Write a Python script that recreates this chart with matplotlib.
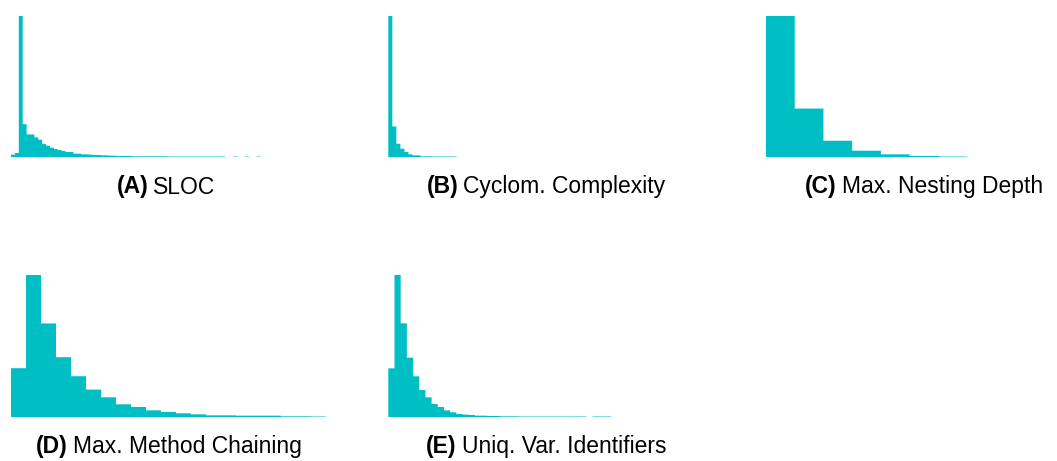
import numpy as np
import matplotlib
matplotlib.use("Agg")
import matplotlib.pyplot as plt

plt.rcParams['font.family'] = ['Liberation Sans', 'DejaVu Sans']

FILL = "#00BFC4"

# bin heights (relative counts, tallest bin = 425)
sloc = [7, 12, 425, 99, 68, 68, 59, 52, 39, 34, 28, 24, 21, 18, 15, 15,
        10, 10, 8, 8, 7, 6, 6, 5, 5, 4, 4, 3, 3, 3, 3, 2,
        2, 2, 2, 2, 2, 2, 2, 2, 1.5, 1.5, 1.5, 1.5, 1.5, 1.5, 1.5, 1.5,
        1.5, 1.5, 1.5, 1.5, 1.5, 1.5, 1.5, 0, 0, 1.5, 0, 0, 1.5, 0, 0, 1.5]
cyclom = [425, 92, 40, 25, 15, 8, 5, 5, 2, 2, 2, 1.5, 1.5, 1.5, 1.5, 1.5, 1.5]
nesting = [425, 146, 49, 19, 8, 3, 1.5]
chaining = [146, 425, 280, 179, 122, 82, 59, 38, 30, 20, 15,
            11, 8, 5, 5, 4, 4, 4, 2, 2, 1.5]
identifiers = [146, 426, 281, 178, 122, 81, 59, 39, 30, 20, 14, 9,
               7, 6, 4, 4, 3, 3, 2, 2, 2, 1.5, 1.5, 1.5, 1.5, 1.5, 1.5, 1.5,
               1.5, 1.5, 1.5, 1.5, 0, 1.5, 1.5, 1.5]

tags = ["(A)", "(B)", "(C)", "(D)", "(E)"]
names = ["SLOC", "Cyclom. Complexity", "Max. Nesting Depth",
         "Max. Method Chaining", "Uniq. Var. Identifiers"]
series = [sloc, cyclom, nesting, chaining, identifiers]

W, H = 1057, 461
fig = plt.figure(figsize=(W / 100, H / 100), dpi=100)

# panel boxes in pixels: left, right, top, bottom ; label centre x, y
boxes = [(11, 260.6, 16, 157), (388.3, 456.7, 16, 157), (766, 967, 16, 157),
         (11, 326, 275, 417), (388.3, 611, 275, 417)]
label_pos = [(166, 187), (546, 187), (924, 187), (169, 446), (546, 446)]

for vals, (l, r, t, b) in zip(series, boxes):
    ax = fig.add_axes([l / W, 1 - b / H, (r - l) / W, (b - t) / H])
    edges = np.arange(len(vals) + 1)
    # no snapping, so the near-empty tail bins still show as a faint line
    ax.stairs(vals, edges, fill=True, color=FILL, linewidth=0, snap=False)
    ax.set_xlim(0, len(vals))
    ax.set_ylim(0, max(vals))
    ax.axis('off')

gap = 5  # px between bold tag and the name
renderer = fig.canvas.get_renderer()
for tag, name, (cx, cy) in zip(tags, names, label_pos):
    t1 = fig.text(0, 1 - cy / H, tag, fontsize=16.5, fontweight='bold',
                  va='center', ha='left')
    t2 = fig.text(0, 1 - cy / H, name, fontsize=16.5,
                  va='center', ha='left')
    w1 = t1.get_window_extent(renderer).width
    w2 = t2.get_window_extent(renderer).width
    x0 = cx - (w1 + gap + w2) / 2
    t1.set_x(x0 / W)
    t2.set_x((x0 + w1 + gap) / W)

fig.savefig("out.png", dpi=100)
